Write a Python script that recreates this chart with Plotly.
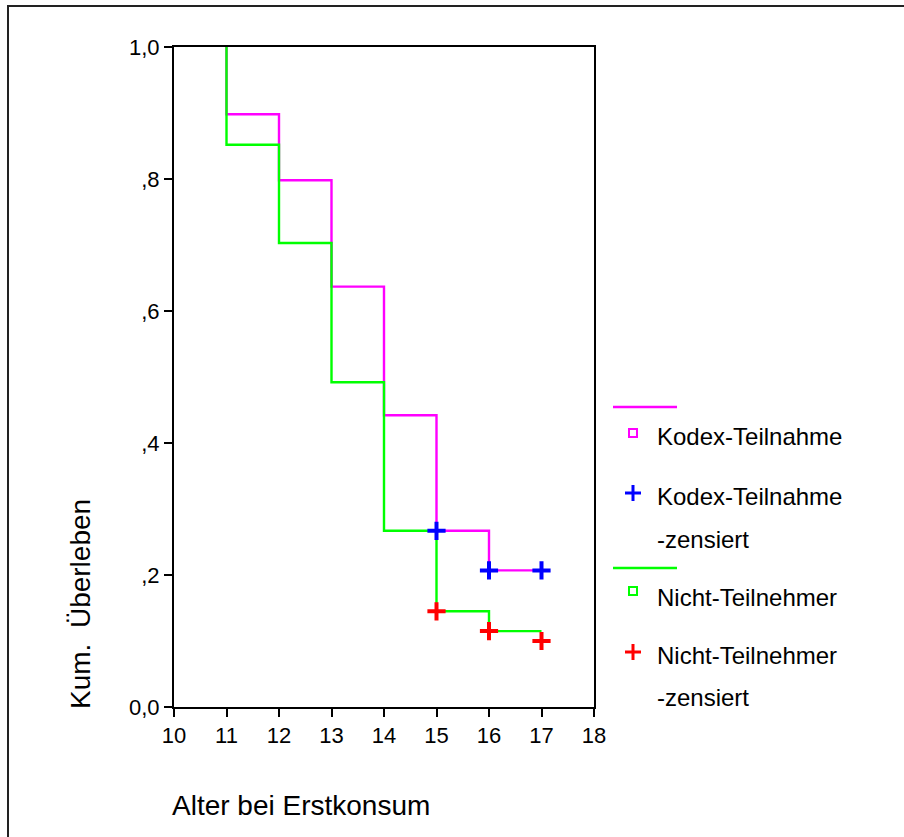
import plotly.graph_objects as go

# ---- data ----
event_ages = [11, 12, 13, 14, 15, 16]
end_age = 17
kodex_surv = [0.898, 0.798, 0.637, 0.442, 0.267, 0.207]
nicht_surv = [0.852, 0.703, 0.492, 0.267, 0.145, 0.115]

kodex_cens_age = [15, 16, 17]
kodex_cens_surv = [0.267, 0.207, 0.207]
nicht_cens_age = [15, 16, 17]
nicht_cens_surv = [0.145, 0.115, 0.100]

x_ticks = [10, 11, 12, 13, 14, 15, 16, 17, 18]
y_ticks = [0.0, 0.2, 0.4, 0.6, 0.8, 1.0]
y_tick_labels = ["0,0", ",2", ",4", ",6", ",8", "1,0"]

legend_labels = ["Kodex-Teilnahme", "Kodex-Teilnahme", "-zensiert",
                 "Nicht-Teilnehmer", "Nicht-Teilnehmer", "-zensiert"]

MAGENTA = "#FF00FF"
GREEN = "#00FF00"
BLUE = "#0000FF"
RED = "#FF0000"
FONT = "Liberation Sans, Arial, sans-serif"

# layout geometry (page pixels)
W, H = 904, 837
L, R, T, B = 174, 594, 47, 707


def step_xy(ages, surv):
    x = [ages[0]] + list(ages) + [end_age]
    y = [1.0] + list(surv) + [surv[-1]]
    return x, y


fig = go.Figure()

kx, ky = step_xy(event_ages, kodex_surv)
nx, ny = step_xy(event_ages, nicht_surv)

fig.add_trace(go.Scatter(x=kx, y=ky, mode="lines", line=dict(color=MAGENTA, width=2.4, shape="hv"),
                         showlegend=False, cliponaxis=False))
fig.add_trace(go.Scatter(x=nx, y=ny, mode="lines", line=dict(color=GREEN, width=2.4, shape="hv"),
                         showlegend=False, cliponaxis=False))
fig.add_trace(go.Scatter(x=kodex_cens_age, y=kodex_cens_surv, mode="markers",
                         marker=dict(symbol="cross-thin", size=13, line=dict(color=BLUE, width=4)),
                         showlegend=False, cliponaxis=False))
fig.add_trace(go.Scatter(x=nicht_cens_age, y=nicht_cens_surv, mode="markers",
                         marker=dict(symbol="cross-thin", size=13, line=dict(color=RED, width=4)),
                         showlegend=False, cliponaxis=False))


def px(xp):
    return (xp - L) / (R - L)


def py_(yp):
    return (B - yp) / (B - T)


shapes = []
# legend lines
for yline, col in [(407, MAGENTA), (568, GREEN)]:
    shapes.append(dict(type="line", xref="paper", yref="paper", x0=px(613), x1=px(677),
                       y0=py_(yline), y1=py_(yline), line=dict(color=col, width=2.4)))
# legend symbols
sym_x = 633
for ysq, col in [(433, MAGENTA), (591, GREEN)]:
    shapes.append(dict(type="rect", xref="paper", yref="paper", x0=px(sym_x - 4), x1=px(sym_x + 4),
                       y0=py_(ysq + 4), y1=py_(ysq - 4), line=dict(color=col, width=2)))
for ypl, col in [(493, BLUE), (652, RED)]:
    shapes.append(dict(type="line", xref="paper", yref="paper", x0=px(sym_x - 8), x1=px(sym_x + 8),
                       y0=py_(ypl), y1=py_(ypl), line=dict(color=col, width=3)))
    shapes.append(dict(type="line", xref="paper", yref="paper", x0=px(sym_x), x1=px(sym_x),
                       y0=py_(ypl + 8), y1=py_(ypl - 8), line=dict(color=col, width=3)))
# outer frame (top and left edges; right/bottom lie outside the picture)
shapes.append(dict(type="line", xref="paper", yref="paper", x0=px(7), x1=px(W + 20),
                   y0=py_(6), y1=py_(6), line=dict(color="#222222", width=2), layer="below"))
shapes.append(dict(type="line", xref="paper", yref="paper", x0=px(8), x1=px(8),
                   y0=py_(5), y1=py_(H + 20), line=dict(color="#222222", width=2), layer="below"))

annotations = []
leg_text_y = [437, 496, 539, 597, 655, 697]
for txt, yt in zip(legend_labels, leg_text_y):
    annotations.append(dict(text=txt, xref="paper", yref="paper", x=px(655), y=py_(yt),
                            xanchor="left", yanchor="middle", showarrow=False,
                            font=dict(family=FONT, size=24, color="black")))
annotations.append(dict(text="Alter bei Erstkonsum", xref="paper", yref="paper", x=px(170), y=py_(806),
                        xanchor="left", yanchor="middle", showarrow=False,
                        font=dict(family=FONT, size=28, color="black")))
annotations.append(dict(text="Kum.  Überleben", xref="paper", yref="paper", x=px(80), y=py_(604),
                        xanchor="center", yanchor="middle", showarrow=False, textangle=-90,
                        font=dict(family=FONT, size=28, color="black")))

fig.update_layout(
    width=W, height=H, autosize=False,
    margin=dict(l=L, r=W - R, t=T, b=H - B, pad=0),
    paper_bgcolor="white", plot_bgcolor="white",
    font=dict(family=FONT, size=22, color="black"),
    xaxis=dict(range=[10, 18], tickvals=x_ticks, ticks="outside", ticklen=8, tickwidth=2,
               tickcolor="black", showline=True, linecolor="black", linewidth=2, mirror=True,
               showgrid=False, zeroline=False, tickfont=dict(size=22)),
    yaxis=dict(range=[0, 1], tickvals=y_ticks, ticktext=y_tick_labels, ticks="outside", ticklen=8,
               tickwidth=2, tickcolor="black", showline=True, linecolor="black", linewidth=2,
               mirror=True, showgrid=False, zeroline=False, tickfont=dict(size=22)),
    shapes=shapes, annotations=annotations, showlegend=False,
)

fig.write_html("out.html", config={"displayModeBar": False},
               post_script="document.body.style.margin='0';document.body.style.overflow='hidden';")
